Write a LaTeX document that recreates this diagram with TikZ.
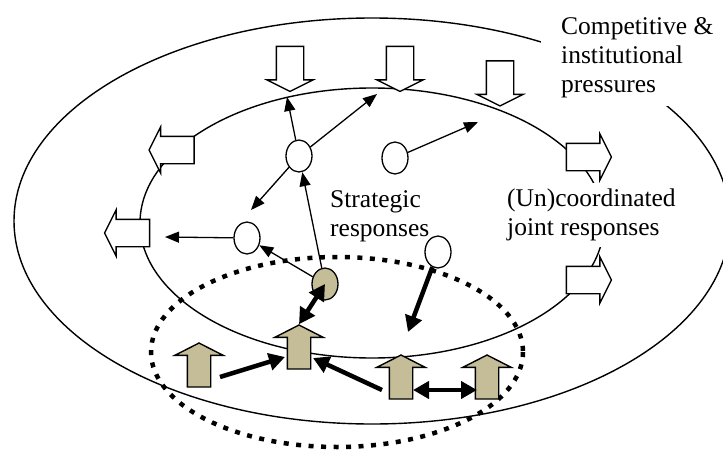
\documentclass[tikz,border=0pt]{standalone}
\usepackage{fontspec}
\setmainfont{Liberation Serif}
\usepackage{tikz}
\usetikzlibrary{arrows.meta,shapes.arrows,shapes.geometric,calc}
\definecolor{ink}{HTML}{000000}
\definecolor{khaki}{HTML}{C4BD97}
\tikzset{
  ring/.style={draw=ink, line width=1.4pt},
  dotring/.style={draw=ink, line width=4.5pt, dash pattern=on 5pt off 7.5pt},
  blk/.style={single arrow, draw=ink, line width=1.4pt, fill=white,
              inner xsep=0pt, inner ysep=13pt, minimum height=45pt,
              single arrow head extend=9.5pt, single arrow tip angle=127,
              single arrow head indent=0pt},
  tanblk/.style={blk, fill=khaki, inner ysep=11pt, minimum height=44pt,
                 single arrow head extend=12.5pt, single arrow tip angle=126},
  firm/.style={ellipse, draw=ink, line width=1.3pt, fill=white, inner sep=0pt,
               minimum width=26pt, minimum height=32pt},
  ar/.style={-{Triangle[length=14pt,width=11pt]}, line width=1.3pt, draw=ink},
  thk/.style={-{Triangle[length=16pt,width=17pt]}, line width=4.5pt, draw=ink},
  lbl/.style={font=\fontsize{25.5}{29}\selectfont, align=left, fill=white,
              anchor=north west},
}

\begin{document}
\begin{tikzpicture}[x=1pt,y=-1pt]
\useasboundingbox (0,0) rectangle (723,450);

\draw[ring] (372,221) ellipse [x radius=358, y radius=203];
\draw[ring] (372,223) ellipse [x radius=232, y radius=135];
\draw[dotring] (337,352) ellipse [x radius=186, y radius=95];

\foreach \n/\x/\y in {d1/290/65.5, d2/400/65.5, d3/500/80}
  \node[blk, rotate=-90] (\n) at (\x,\y) {};
\foreach \n/\x/\y in {l1/175/150, l2/130.5/233}
  \node[blk, rotate=180] (\n) at (\x,\y) {};
\foreach \n/\x/\y in {r1/585.5/157, r2/585.5/280}
  \node[blk] (\n) at (\x,\y) {};

\node[lbl, inner xsep=20pt, inner ysep=8pt] (press) at (541,9)
  {Competitive \&\\institutional\\pressures};
\node[lbl, inner sep=1pt] (strat) at (329,189) {Strategic\\responses};
\node[lbl, inner xsep=2pt, inner ysep=6pt] (joint) at (505,183)
  {(Un)coordinated\\joint responses};

\foreach \n/\x/\y in {t1/199/368, t2/299/350, t3/401/380, t4/487/380}
  \node[tanblk, rotate=90] (\n) at (\x,\y) {};

\node[firm] (c1) at (299,156) {};
\node[firm] (c2) at (395,158) {};
\node[firm] (c3) at (247,238) {};
\node[firm] (c4) at (438,252) {};
\node[firm, fill=khaki] (c5) at (325,284) {};

\coordinate (p1) at (287,97);
\coordinate (p2) at (377,94);
\coordinate (p3) at (251,210);
\coordinate (p4) at (165,237);
\coordinate (p5) at (478,122);
\coordinate (p6) at (408,332);

\draw[ar] (c1) -- (p1);
\draw[ar] (c1) -- (p2);
\draw[ar] (c1) -- (p3);
\draw[ar] (c5) -- (c1);
\draw[ar] (c5) -- (c3);
\draw[ar] (c3) -- (p4);
\draw[ar] (c2) -- (p5);

\draw[thk, {Triangle[length=16pt,width=17pt]}-{Triangle[length=16pt,width=17pt]}]
  (c5.center) -- (t2.tip);
\draw[thk] (c4) -- (p6);
\draw[thk] ($(t1.center)+(21,9)$) -- ($(t2.center)+(-14,7)$);
\draw[thk] ($(t3.center)+(-19,10)$) -- ($(t2.center)+(14,8)$);
\draw[thk, {Triangle[length=16pt,width=17pt]}-{Triangle[length=16pt,width=17pt]}]
  ($(t3.center)+(12,10)$) -- ($(t4.center)+(-10,10)$);
\end{tikzpicture}
\end{document}
